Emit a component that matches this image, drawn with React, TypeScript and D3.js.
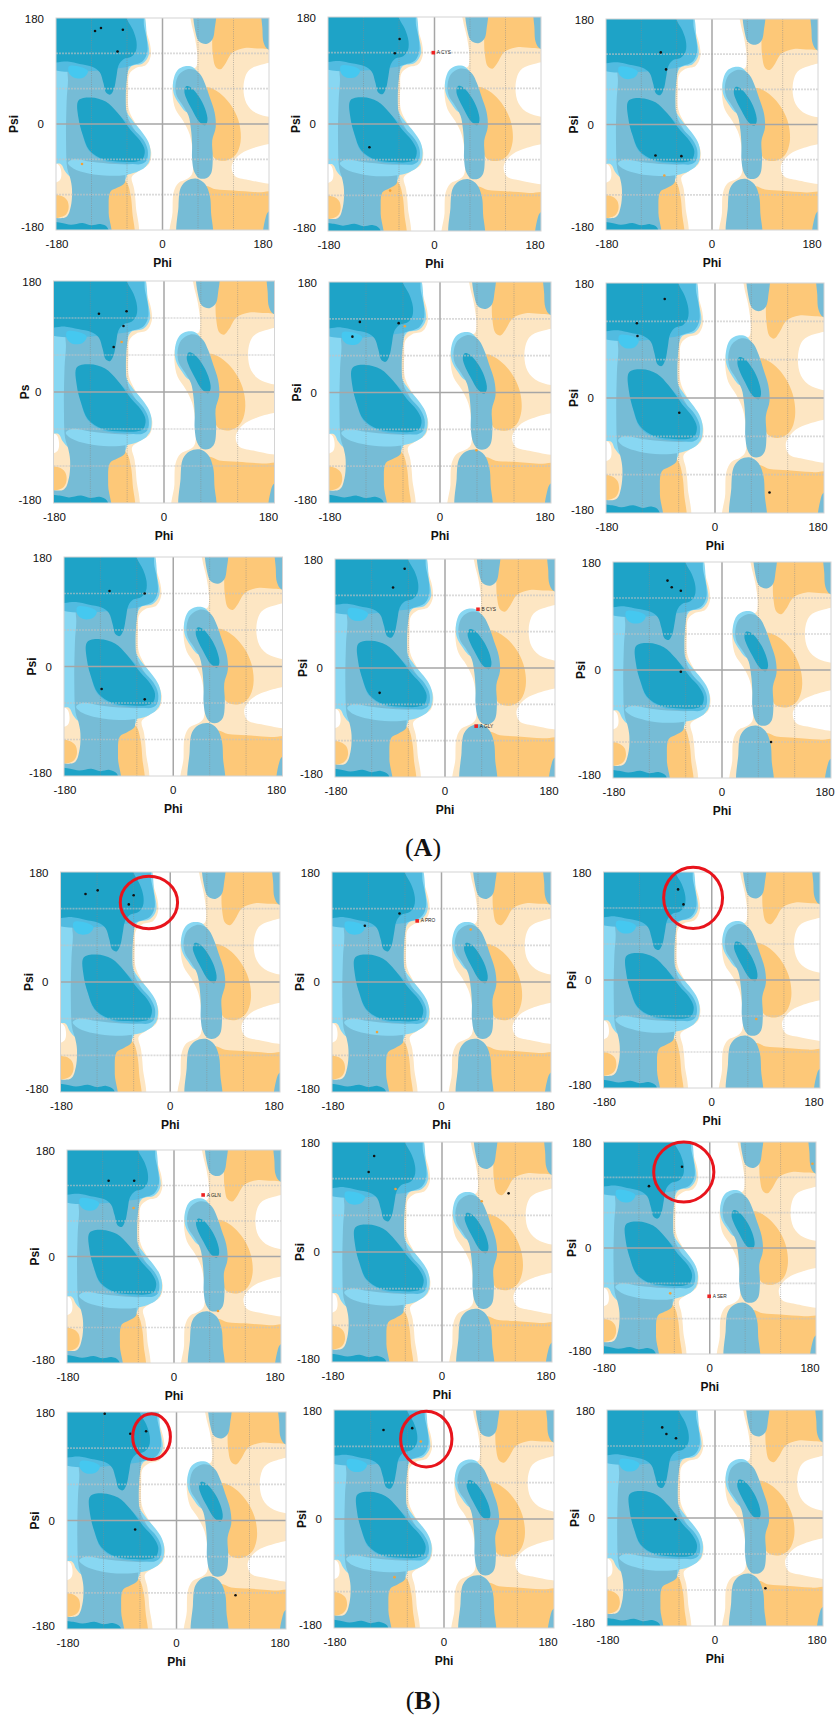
import React from "react";
import * as d3 from "d3";

type P = [number, number];
type R = [number, number, string];

// ---------- Ramachandran background regions (phi, psi in degrees) ----------
const lightOrangeRight: P[] = [[46,200],[200,200],[200,-200],[16,-200],[17,-150],[19,-115],[27,-100],[42,-93],[50,-85],[51,-50],[46,-18],[35,5],[22,25],[17,50],[18,70],[25,86],[40,96],[56,96],[59,112],[55,145],[48,175]];
const whiteHoleRight1: P[] = [[200,102],[165,100],[145,90],[137,65],[142,35],[160,18],[200,15]];
const whiteHoleRight2: P[] = [[200,-36],[150,-42],[128,-54],[117,-71],[122,-88],[145,-95],[200,-98]];
const orangeTop: P[] = [[86,200],[200,200],[200,130],[166,128],[139,129],[118,121],[106,102],[98,93],[90,97],[85,118],[84,150]];
const orangeMid: P[] = [[75,62],[88,58],[105,45],[120,25],[130,0],[132,-30],[124,-52],[108,-62],[88,-58],[80,-30],[82,0],[78,30],[70,55]];
const orangeBottomRight: P[] = [[72,-106],[90,-111],[120,-113],[160,-116],[200,-118],[200,-200],[72,-200]];
const blueTopLobe: P[] = [[55,200],[88,200],[88,160],[84,143],[74,136],[62,140],[56,155]];
const blueEdgeTop: P[] = [[170,200],[200,200],[200,126],[178,127],[171,138],[169,160]];
const blueEdgeBottom: P[] = [[172,-200],[200,-200],[200,-150],[180,-148],[174,-160]];
const cyanHaloRight: P[] = [[38,98],[25,91],[18,72],[19,52],[28,35],[42,20],[58,28],[66,55],[62,82],[52,96]];
const blueLeftAlpha: P[] = [[42,93],[28,84],[22,66],[24,48],[34,32],[44,14],[48,-8],[50,-35],[50,-60],[54,-82],[62,-92],[74,-92],[82,-84],[85,-58],[84,-28],[90,-5],[88,20],[80,45],[72,68],[64,84],[54,92]];
const darkLeftAlpha: P[] = [[40,64],[48,62],[62,46],[72,26],[76,6],[72,-2],[62,4],[50,24],[40,44],[37,56]];
const blueBottomRight: P[] = [[28,-200],[82,-200],[82,-150],[80,-122],[72,-102],[58,-93],[42,-96],[31,-108],[27,-140]];

const lightOrangeLeft: P[] = [[-200,200],[-36,200],[-28,160],[-21,135],[-20,115],[-28,100],[-45,95],[-56,85],[-58,60],[-57,25],[-48,5],[-35,-15],[-25,-30],[-19,-48],[-23,-68],[-40,-80],[-52,-90],[-48,-110],[-45,-140],[-45,-200],[-200,-200]];
const orangeBottomLeft: P[] = [[-97,-200],[-50,-200],[-51,-150],[-54,-120],[-60,-100],[-70,-92],[-82,-96],[-93,-108],[-97,-135]];
const orangeCorner: P[] = [[-200,-124],[-172,-122],[-161,-130],[-159,-145],[-166,-156],[-200,-158]];
const whiteNotch: P[] = [[-200,-66],[-176,-69],[-171,-82],[-174,-96],[-200,-100]];
const cyanLeft: P[] = [[-200,200],[-40,200],[-26,145],[-23,118],[-33,103],[-54,97],[-61,75],[-62,25],[-50,5],[-35,-13],[-24,-30],[-20,-48],[-24,-67],[-40,-78],[-57,-82],[-64,-95],[-90,-96],[-130,-90],[-155,-90],[-165,-80],[-172,-68],[-200,-66]];
const blueLeft: P[] = [[-200,200],[-50,200],[-44,165],[-40,135],[-46,115],[-56,102],[-60,80],[-62,40],[-60,15],[-52,-2],[-42,-18],[-34,-35],[-31,-52],[-38,-64],[-52,-72],[-62,-84],[-64,-100],[-76,-108],[-88,-115],[-91,-150],[-89,-200],[-200,-200],[-200,-162],[-163,-158],[-155,-140],[-153,-110],[-156,-92],[-161,-75],[-163,-30],[-162,40],[-160,80],[-165,100],[-200,110]];
const cyanBand: P[] = [[-150,-60],[-120,-64],[-80,-68],[-50,-68],[-32,-62],[-27,-70],[-40,-80],[-60,-86],[-90,-88],[-125,-84],[-150,-76],[-160,-66]];
const ringBeta: P[] = [[-200,200],[-38,200],[-31,165],[-26,140],[-26,120],[-34,106],[-50,100],[-65,96],[-200,100]];
const ringAlpha: P[] = [[-142,36],[-121,41],[-96,34],[-74,16],[-50,-8],[-33,-26],[-25,-44],[-27,-62],[-36,-68],[-50,-68],[-70,-67],[-100,-62],[-124,-46],[-135,-18],[-140,8]];
const darkBeta: P[] = [[-200,200],[-66,200],[-60,178],[-50,160],[-44,140],[-45,124],[-53,114],[-66,110],[-74,100],[-78,80],[-82,60],[-88,50],[-95,53],[-100,70],[-106,88],[-118,97],[-140,102],[-160,106],[-200,108]];
const darkAlpha: P[] = [[-142,40],[-121,45],[-96,38],[-76,19],[-54,-10],[-38,-28],[-30,-45],[-34,-60],[-45,-64],[-68,-64],[-100,-60],[-124,-44],[-135,-18],[-142,10]];
const darkBottom: P[] = [[-200,-200],[-92,-200],[-93,-176],[-105,-170],[-120,-172],[-135,-168],[-155,-171],[-170,-168],[-200,-168]];
const brightCyan: P[] = [[-158,98],[-138,97],[-126,90],[-132,80],[-148,78],[-158,86]];

const LO = "#fde6c3", OR = "#fdc878", LC = "#88d7f2", GB = "#76bcd6", MB = "#52bbe0", DB = "#1ea3c7", BC = "#45c8f0";
const background: { pts: P[]; fill: string }[] = [
  { pts: lightOrangeRight, fill: LO }, { pts: whiteHoleRight1, fill: "#ffffff" }, { pts: whiteHoleRight2, fill: "#ffffff" },
  { pts: orangeTop, fill: OR }, { pts: orangeMid, fill: OR }, { pts: orangeBottomRight, fill: OR },
  { pts: blueTopLobe, fill: GB }, { pts: blueEdgeTop, fill: GB }, { pts: blueEdgeBottom, fill: GB },
  { pts: cyanHaloRight, fill: LC }, { pts: blueLeftAlpha, fill: GB }, { pts: darkLeftAlpha, fill: DB }, { pts: blueBottomRight, fill: GB },
  { pts: lightOrangeLeft, fill: LO }, { pts: orangeBottomLeft, fill: OR }, { pts: orangeCorner, fill: OR }, { pts: whiteNotch, fill: "#ffffff" },
  { pts: cyanLeft, fill: LC }, { pts: blueLeft, fill: GB }, { pts: cyanBand, fill: LC }, { pts: ringBeta, fill: MB }, { pts: ringAlpha, fill: MB },
  { pts: darkBeta, fill: DB }, { pts: darkAlpha, fill: DB }, { pts: darkBottom, fill: DB }, { pts: brightCyan, fill: BC },
];

const axisTicks = [-180, 0, 180];
const gridDashed = [-120, -60, 60, 120];

// ---------- residues per panel ----------
const a1Black: P[] = [[-114,158],[-104,163],[-67,160],[-76,123]];
const a1Gly: P[] = [[-136,-68]];
const a2Black: P[] = [[-59,143],[-67,119],[-110,-39]];
const a2Gly: P[] = [[-75,-112]];
const a2Red: R[] = [[-2,120,"A CYS"]];
const a3Black: P[] = [[-87,123],[-78,94],[-96,-53],[-52,-54]];
const a3Gly: P[] = [[-81,-87]];
const a4Black: P[] = [[-106,127],[-61,131],[-66,107],[-82,73]];
const a4Gly: P[] = [[-69,81]];
const a5Black: P[] = [[-130,115],[-67,113],[-142,91]];
const a5Gly: P[] = [[-57,108],[59,-94]];
const a6Black: P[] = [[-83,155],[-129,117],[-128,97],[-59,-23],[90,-148]];
const a7Black: P[] = [[-105,124],[-47,120],[-118,-37],[-47,-54]];
const a8Black: P[] = [[-66,164],[-85,133],[-107,-41]];
const a8Red: R[] = [[54,97,"B CYS"],[51,-96,"A GLY"]];
const a9Black: P[] = [[-90,149],[-83,138],[-68,132],[-68,-3],[81,-120]];
const b1Black: P[] = [[-139,144],[-119,150],[-60,142],[-68,127]];
const b2Black: P[] = [[-69,112],[-126,92]];
const b2Gly: P[] = [[48,86],[-106,-82]];
const b2Red: R[] = [[-40,100,"A PRO"]];
const b3Black: P[] = [[-56,151],[-47,126]];
const b3Gly: P[] = [[74,-65]];
const b4Black: P[] = [[-110,128],[-67,128]];
const b4Gly: P[] = [[-68,82],[74,-92]];
const b4Red: R[] = [[49,104,"A GLN"]];
const b5Black: P[] = [[-111,157],[-120,131],[109,96]];
const b5Gly: P[] = [[-76,103],[65,83]];
const b6Black: P[] = [[-47,138],[-103,105]];
const b6Gly: P[] = [[-67,-77],[174,143]];
const b6Red: R[] = [[-1,-82,"A SER"]];
const b7Black: P[] = [[-118,177],[-76,144],[-50,148],[-68,-15],[97,-124]];
const b8Black: P[] = [[-99,147],[-52,150]];
const b8Gly: P[] = [[-38,128],[-81,-96]];
const b9Black: P[] = [[-88,151],[-81,140],[-65,133],[-66,-2],[84,-117]];

// highlighted regions: [phi, psi, radiusPhi, radiusPsi]
const b1Circle = [-35, 130, 47, 43];
const b3Circle = [-31, 137, 49, 51];
const b6Circle = [-44, 129, 51, 51];
const b7Circle = [-41, 139, 31, 38];
const b8Circle = [-29, 132, 42, 46];

// ---------- layout (pixel frames of each plot area) ----------
type Panel = { f: [number, number, number, number]; black: P[]; gly?: P[]; red?: R[]; circle?: number[]; psiDx?: number; psiText?: string };
const panels: Panel[] = [
  { f: [56, 18, 269, 230], black: a1Black, gly: a1Gly, psiDx: 42 },
  { f: [328, 17, 541, 231], black: a2Black, gly: a2Gly, red: a2Red },
  { f: [606, 19, 818, 230], black: a3Black, gly: a3Gly },
  { f: [53.5, 281, 274.5, 503], black: a4Black, gly: a4Gly, psiText: "Ps", psiDx: 29 },
  { f: [329, 282, 551, 503], black: a5Black, gly: a5Gly },
  { f: [606, 283, 824, 513], black: a6Black },
  { f: [64, 557, 282.5, 776], black: a7Black },
  { f: [335, 559, 555, 777], black: a8Black, red: a8Red },
  { f: [613, 562, 831, 778], black: a9Black },
  { f: [60.5, 872, 280, 1092], black: b1Black, circle: b1Circle },
  { f: [332, 872, 551, 1092], black: b2Black, gly: b2Gly, red: b2Red },
  { f: [603.5, 872, 820, 1088], black: b3Black, gly: b3Gly, circle: b3Circle },
  { f: [67, 1150, 281, 1363], black: b4Black, gly: b4Gly, red: b4Red },
  { f: [332, 1142, 552, 1362], black: b5Black, gly: b5Gly },
  { f: [603.5, 1142, 816, 1354], black: b6Black, gly: b6Gly, red: b6Red, circle: b6Circle },
  { f: [67, 1412, 286, 1629], black: b7Black, circle: b7Circle },
  { f: [334, 1410, 554, 1628], black: b8Black, gly: b8Gly, circle: b8Circle },
  { f: [607, 1410, 823, 1626], black: b9Black },
];

const FONT = "'Liberation Sans', Arial, sans-serif";

function Rama({ p, idx }: { p: Panel; idx: number }) {
  const [x0, y0, x1, y1] = p.f;
  const x = d3.scaleLinear().domain([-180, 180]).range([x0, x1]);
  const y = d3.scaleLinear().domain([-180, 180]).range([y1, y0]);
  const line = d3.line<P>().x((d) => x(d[0])).y((d) => y(d[1])).curve(d3.curveCatmullRomClosed.alpha(0.5));
  const cid = `clip-${idx}`;
  const mx = x(0), my = y(0);
  return (
    <g>
      <defs>
        <clipPath id={cid}><rect x={x0} y={y0} width={x1 - x0} height={y1 - y0} /></clipPath>
      </defs>
      <g clipPath={`url(#${cid})`}>
        <rect x={x0} y={y0} width={x1 - x0} height={y1 - y0} fill="#fff" />
        {background.map((r, i) => <path key={i} d={line(r.pts) || ""} fill={r.fill} />)}
        {gridDashed.map((v) => (
          <line key={"h" + v} x1={x0} x2={x1} y1={y(v)} y2={y(v)} stroke="#c4c4c4" strokeWidth={1.6} strokeDasharray="2,1" opacity={0.6} />
        ))}
        {gridDashed.map((v) => (
          <line key={"v" + v} x1={x(v)} x2={x(v)} y1={y0} y2={y1} stroke="#8a8a8a" strokeWidth={1} strokeDasharray="1,1.2" opacity={0.55} />
        ))}
        <line x1={mx} x2={mx} y1={y0} y2={y1} stroke="#a6a6a6" strokeWidth={1.5} />
        <line x1={x0} x2={x1} y1={my} y2={my} stroke="#a6a6a6" strokeWidth={1.5} />
      </g>
      <rect x={x0} y={y0} width={x1 - x0} height={y1 - y0} fill="none" stroke="#d4d4d4" strokeWidth={1} />
      {p.black.map((d, i) => <circle key={"b" + i} cx={x(d[0])} cy={y(d[1])} r={1.3} fill="#111" />)}
      {(p.gly || []).map((d, i) => <circle key={"g" + i} cx={x(d[0])} cy={y(d[1])} r={1.3} fill="#f2a23a" />)}
      {(p.red || []).map((d, i) => (
        <g key={"r" + i}>
          <rect x={x(d[0]) - 1.8} y={y(d[1]) - 1.8} width={3.6} height={3.6} fill="#ee2222" />
          <text x={x(d[0]) + 3.5} y={y(d[1]) + 1.6} fontSize={4.8} fontFamily={FONT} fill="#222">{d[2]}</text>
        </g>
      ))}
      {p.circle && (
        <ellipse cx={x(p.circle[0])} cy={y(p.circle[1])} rx={Math.abs(x(p.circle[2]) - x(0))} ry={Math.abs(y(p.circle[3]) - y(0))}
          fill="none" stroke="#e8141c" strokeWidth={3} />
      )}
      {axisTicks.map((v) => (
        <text key={"yl" + v} x={x0 - 12} y={v === 180 ? y0 + 1 : v === -180 ? y1 - 3 : y(v)} textAnchor="end" dominantBaseline="central"
          fontSize={11.5} fontFamily={FONT} fill="#111">{v}</text>
      ))}
      {axisTicks.map((v) => (
        <text key={"xl" + v} x={v === 180 ? x1 - 6 : v === -180 ? x0 + 1 : x(v)} y={y1 + 14} textAnchor="middle" dominantBaseline="central"
          fontSize={11.5} fontFamily={FONT} fill="#111">{v}</text>
      ))}
      <text x={(x0 + x1) / 2} y={y1 + 33} textAnchor="middle" dominantBaseline="central" fontSize={12} fontWeight="bold" fontFamily={FONT} fill="#111">Phi</text>
      <text transform={`translate(${x0 - (p.psiDx ?? 32)},${my}) rotate(-90)`} textAnchor="middle" dominantBaseline="central"
        fontSize={12} fontWeight="bold" fontFamily={FONT} fill="#111">{p.psiText ?? "Psi"}</text>
    </g>
  );
}

export default function App() {
  return (
    <svg width={839} height={1720} style={{ position: "absolute", left: 0, top: 0, background: "#fff" }}>
      <rect x={0} y={0} width={839} height={1720} fill="#fff" />
      {panels.map((p, i) => <Rama key={i} p={p} idx={i} />)}
      <text x={423} y={856} textAnchor="middle" fontSize={26} fontFamily="'Liberation Serif', 'Times New Roman', serif" fill="#111">
        (<tspan fontWeight="bold">A</tspan>)
      </text>
      <text x={423} y={1709} textAnchor="middle" fontSize={26} fontFamily="'Liberation Serif', 'Times New Roman', serif" fill="#111">
        (<tspan fontWeight="bold">B</tspan>)
      </text>
    </svg>
  );
}
